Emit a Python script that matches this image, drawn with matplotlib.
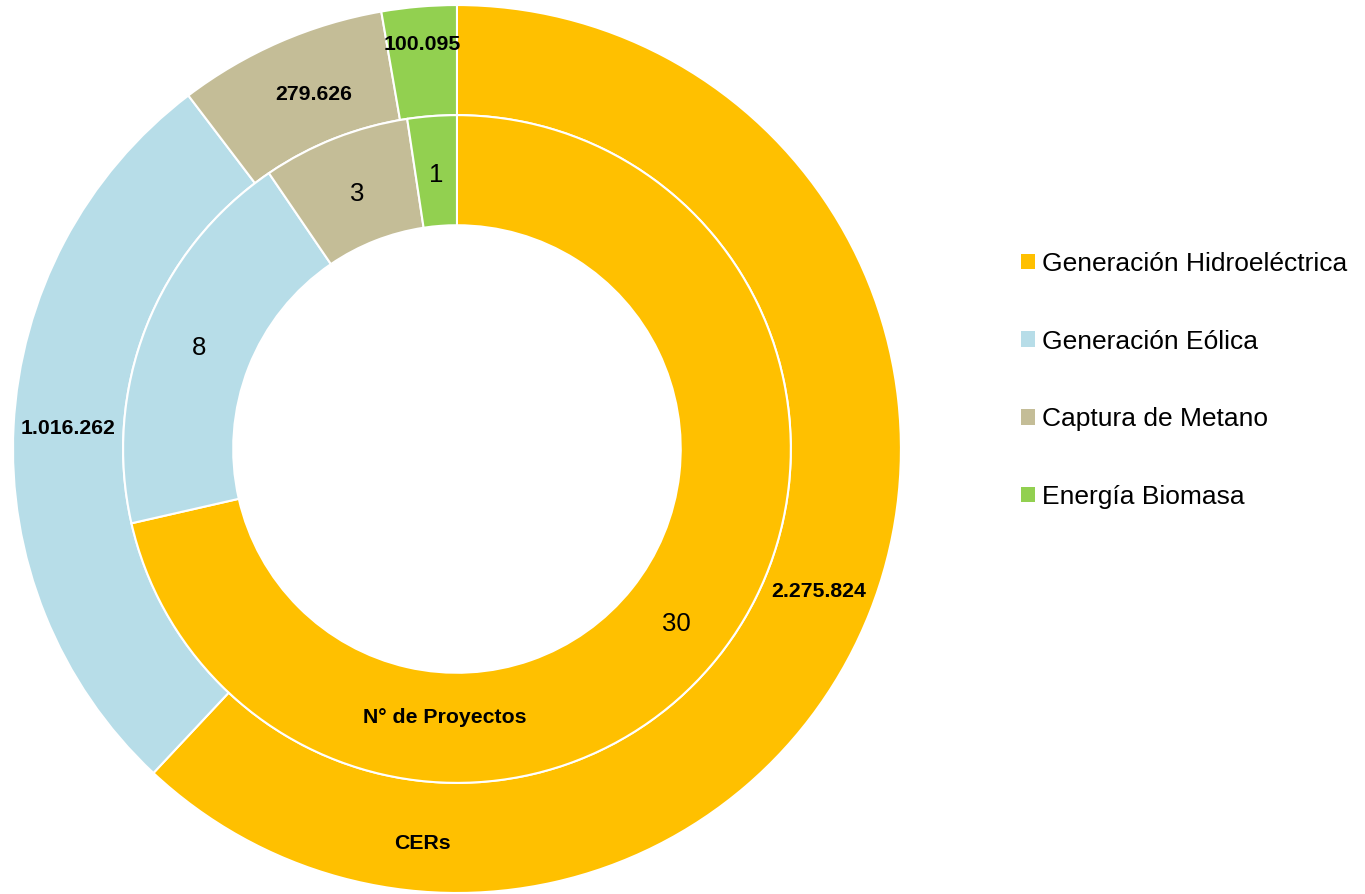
import matplotlib.pyplot as plt
from matplotlib.patches import Patch
import numpy as np

plt.rcParams['font.family'] = ['Liberation Sans', 'DejaVu Sans']

# data
categorias = ['Generación Hidroeléctrica', 'Generación Eólica',
              'Captura de Metano', 'Energía Biomasa']
cers = [2275824, 1016262, 279626, 100095]
cers_txt = ['2.275.824', '1.016.262', '279.626', '100.095']
proyectos = [30, 8, 3, 1]
colores = ['#FFC000', '#B7DDE8', '#C4BD97', '#92D050']

fig = plt.figure(figsize=(13.65, 8.94), dpi=100)
ax = fig.add_axes([0.00952, 0.0011, 0.6505, 0.9933])

ring_w = 0.248
r_out = 1.0
r_in = r_out - ring_w

wedges_out, _ = ax.pie(cers, radius=r_out, colors=colores, startangle=90,
                       counterclock=False,
                       wedgeprops=dict(width=ring_w, edgecolor='white',
                                       linewidth=1.5))
wedges_in, _ = ax.pie(proyectos, radius=r_in, colors=colores, startangle=90,
                      counterclock=False,
                      wedgeprops=dict(width=ring_w, edgecolor='white',
                                      linewidth=1.5))


def mid_pos(w, r, shift=0.0):
    ang = np.deg2rad((w.theta1 + w.theta2) / 2 + shift)
    return r * np.cos(ang), r * np.sin(ang)


# label radii (small slices sit a bit further out, as in the original)
r_lab_out = [0.876, 0.876, 0.862, 0.915]
shift_out = [0, 0, -1.5, 0]
r_lab_in = [0.632, 0.625, 0.617, 0.62]
for w, t, r, s in zip(wedges_out, cers_txt, r_lab_out, shift_out):
    x, y = mid_pos(w, r, s)
    ax.text(x, y, t, ha='center', va='center', fontsize=15.3,
            fontweight='bold', color='black')
for w, n, r in zip(wedges_in, proyectos, r_lab_in):
    x, y = mid_pos(w, r)
    ax.text(x, y, str(n), ha='center', va='center', fontsize=18.5,
            color='black')

# series names
ax.text(-0.027, -0.604, 'N° de Proyectos', ha='center', va='center',
        fontsize=15.3, fontweight='bold')
ax.text(-0.077, -0.888, 'CERs', ha='center', va='center',
        fontsize=15.3, fontweight='bold')

ax.set_xlim(-1, 1)
ax.set_ylim(-1, 1)
ax.set_aspect('equal')
ax.axis('off')

handles = [Patch(facecolor=c, edgecolor='none') for c in colores]
fig.legend(handles, categorias, loc='center left',
           bbox_to_anchor=(1021 / 1365, 0.5745), frameon=False,
           fontsize=19, handlelength=0.53, handleheight=0.53,
           handletextpad=0.27, labelspacing=2.03, borderpad=0,
           borderaxespad=0)

fig.savefig('out.png', dpi=100)
